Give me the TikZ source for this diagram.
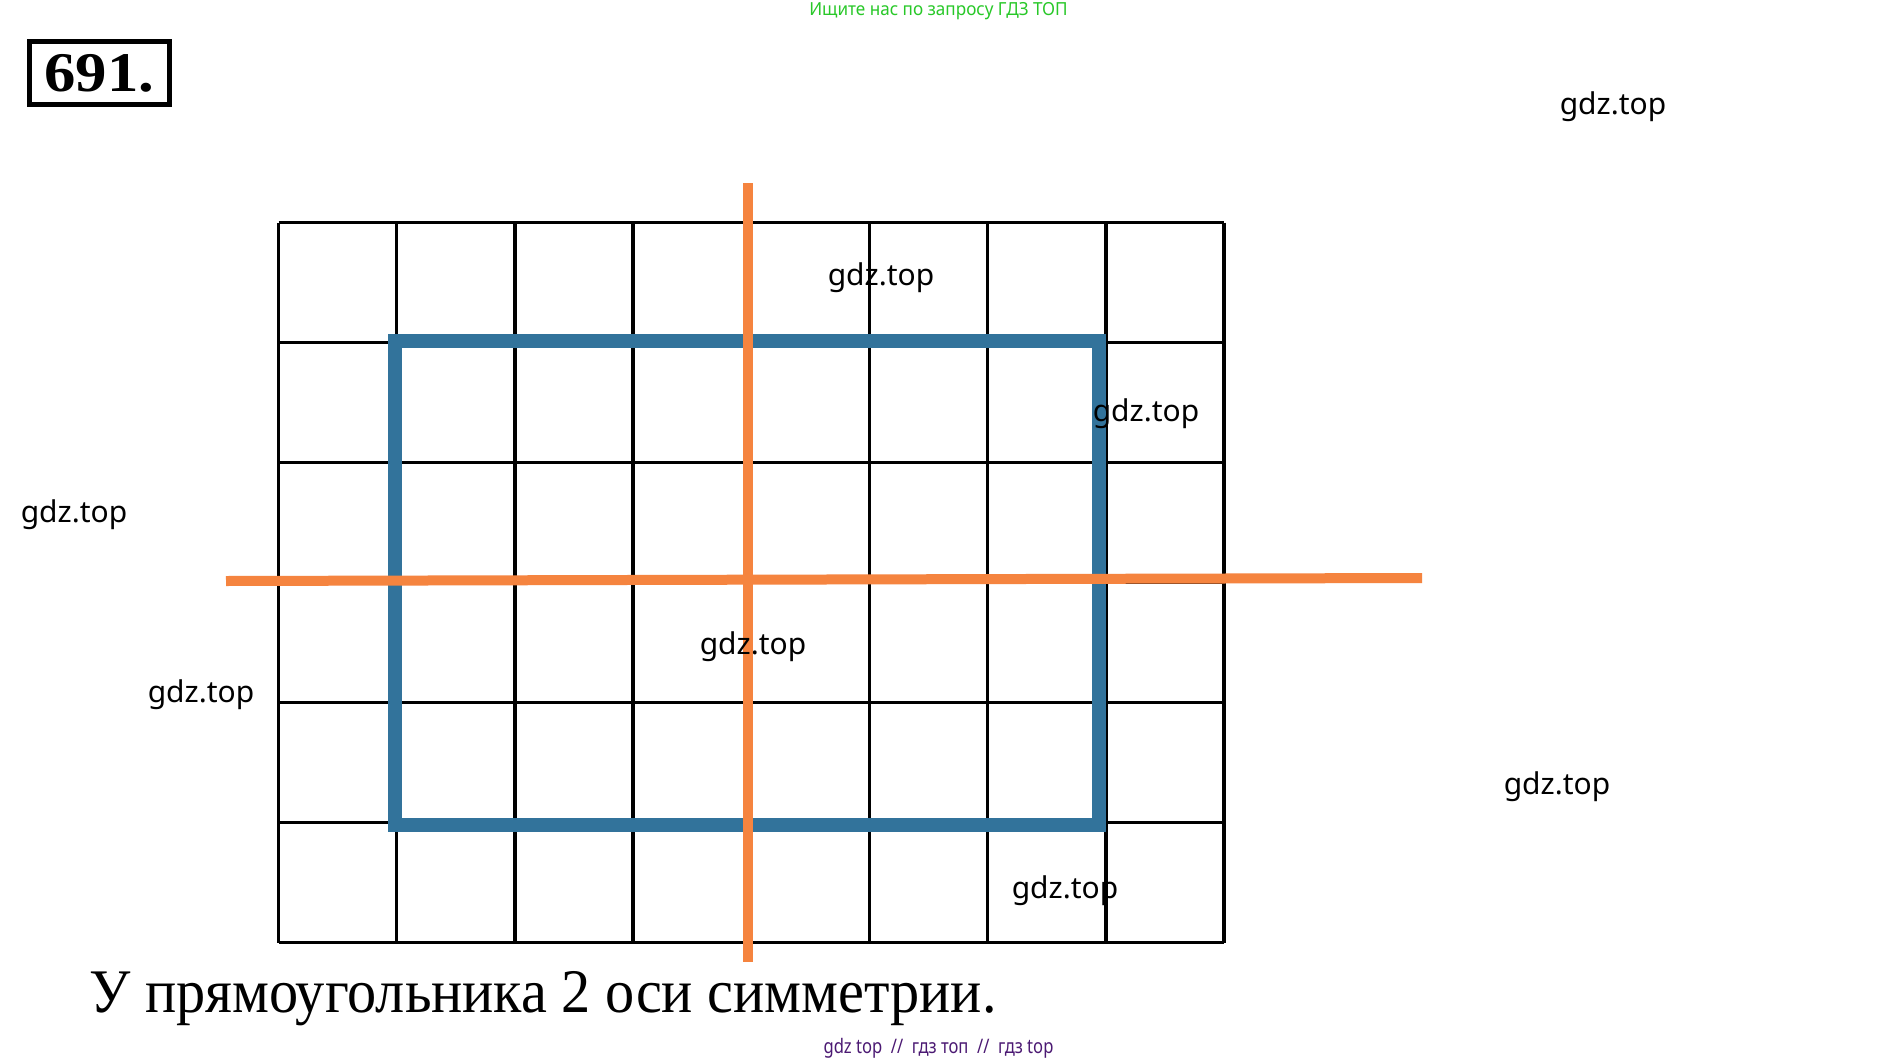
\documentclass[tikz,border=0pt]{standalone}
\usepackage{fontspec}
\setmainfont{Liberation Serif}
\newfontfamily\wmfont{Noto Sans}
\definecolor{axisorange}{RGB}{245,132,63}
\definecolor{rectblue}{RGB}{50,115,155}
\definecolor{topgreen}{RGB}{40,200,40}
\definecolor{footpurple}{RGB}{75,25,115}
\tikzset{
  gridline/.style={line width=3.3pt, black},
  rectline/.style={line width=14pt, rectblue, line join=miter},
  axisline/.style={line width=10pt, axisorange},
  wm/.style={font=\wmfont\fontsize{30}{34}\selectfont, inner sep=0pt, black},
}
\begin{document}
\begin{tikzpicture}[x=1pt,y=-1pt]
\useasboundingbox[fill=white] (0,0) rectangle (1878,1062);
% grid 8 x 6
\foreach \i in {0,...,8} {
  \draw[gridline] (278.5+\i*118.2,222.7) -- (278.5+\i*118.2,942.7);
}
\foreach \j in {0,...,6} {
  \draw[gridline] (278.5,222.7+\j*120) -- (1224.1,222.7+\j*120);
}
% rectangle
\draw[rectline] (395,341) rectangle (1099,825);
% axes of symmetry
\coordinate (vtop) at (748,183);
\coordinate (vbot) at (748,962);
\coordinate (hleft) at (226,581);
\coordinate (hright) at (1422,578);
\draw[axisline] (vtop) -- (vbot);
\draw[axisline] (hleft) -- (hright);
% title box
\node[draw, line width=5pt, inner sep=0pt, minimum width=140pt, minimum height=63pt,
      font=\bfseries\fontsize{56}{60}\selectfont] (num) at (99.5,73)
  {\scalebox{1.12}[1]{691.}};
% top green text
\node[font=\wmfont\fontsize{18}{20}\selectfont, text=topgreen, inner sep=0pt] (top) at (938.5,11)
  {\scalebox{0.95}[1]{Ищите нас по запросу ГДЗ ТОП}};
% watermarks
\node[wm] (w1) at (1613,107) {gdz.top};
\node[wm] (w2) at (881,278) {gdz.top};
\node[wm] (w3) at (1146,414) {gdz.top};
\node[wm] (w4) at (74,515) {gdz.top};
\node[wm] (w5) at (753,647) {gdz.top};
\node[wm] (w6) at (201,695) {gdz.top};
\node[wm] (w7) at (1557,787) {gdz.top};
\node[wm] (w8) at (1065,891) {gdz.top};
% caption
\node[anchor=base west, inner sep=0pt, font=\fontsize{62}{66}\selectfont] (cap) at (89,1012)
  {\scalebox{0.94}[1]{У прямоугольника 2 оси симметрии.}};
% footer
\node[anchor=base, inner sep=0pt, font=\wmfont\fontsize{20}{22}\selectfont, text=footpurple] (foot) at (938.5,1053)
  {\scalebox{0.83}[1]{gdz top \ // \ гдз топ \ // \ гдз top}};
\end{tikzpicture}
\end{document}
